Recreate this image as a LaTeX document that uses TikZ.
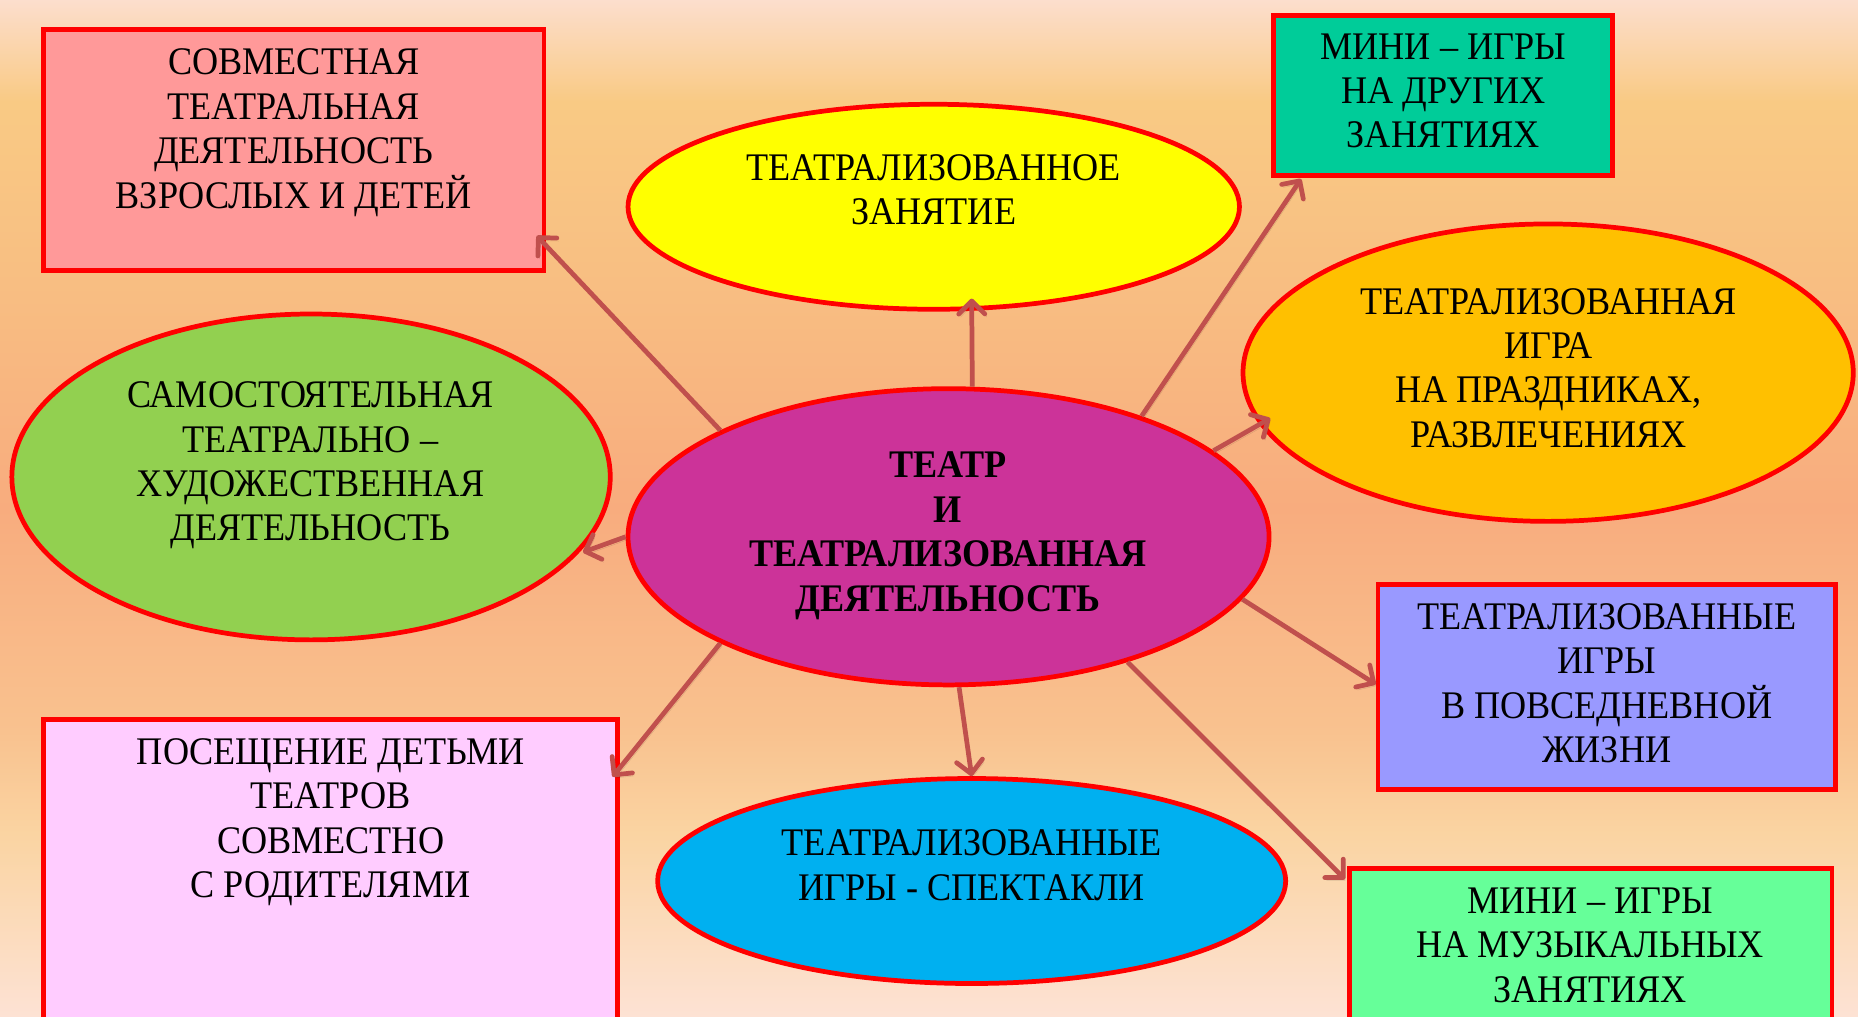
\documentclass[tikz,border=0pt]{standalone}
\usepackage{fontspec}
\setmainfont{Liberation Serif}[FakeStretch=0.925]
\usetikzlibrary{shapes.geometric,arrows.meta,calc}
\definecolor{bgA}{RGB}{253,226,212}
\definecolor{bgB}{RGB}{250,212,162}
\definecolor{bgC}{RGB}{249,194,143}
\definecolor{bgD}{RGB}{248,172,126}
\definecolor{bgE}{RGB}{248,190,130}
\definecolor{bgF}{RGB}{249,202,132}
\definecolor{bgG}{RGB}{252,222,205}
\definecolor{bordred}{RGB}{255,0,0}
\definecolor{arrowred}{RGB}{192,80,77}
\definecolor{fillsalmon}{RGB}{255,153,153}
\definecolor{fillyellow}{RGB}{255,255,0}
\definecolor{fillteal}{RGB}{0,204,153}
\definecolor{fillorange}{RGB}{255,192,0}
\definecolor{fillgreen}{RGB}{146,208,80}
\definecolor{fillmagenta}{RGB}{204,51,153}
\definecolor{fillviolet}{RGB}{153,153,255}
\definecolor{fillpink}{RGB}{255,204,255}
\definecolor{fillblue}{RGB}{0,176,240}
\definecolor{filllime}{RGB}{102,255,153}
\pgfdeclareverticalshading{bgshade}{100bp}{color(0bp)=(bgA); color(25bp)=(bgA); color(34bp)=(bgB); color(39bp)=(bgC); color(50bp)=(bgD); color(61bp)=(bgE); color(70bp)=(bgF); color(75bp)=(bgG); color(100bp)=(bgG)}
\begin{document}
\begin{tikzpicture}[x=1pt,y=-1pt,
  shapebase/.style={draw=bordred, line width=4pt, inner sep=0pt},
  boxshape/.style={shapebase, rectangle},
  ellshape/.style={shapebase, ellipse},
  txt/.style={anchor=north, align=center, inner sep=0pt, font=\fontsize{33}{37.5}\selectfont},
  conn/.style={draw=arrowred, line width=4pt, -{Straight Barb[length=11pt,width=22pt,round]},
    preaction={draw=black, draw opacity=0.12, transform canvas={shift={(1.5pt,-2.5pt)}}}}
]
\clip (0,0) rectangle (1568,858);
\shade[shading=bgshade] (0,0) rectangle (1568,858);

% shapes
\node[boxshape, fill=fillsalmon, minimum width=422pt, minimum height=203pt] (b1) at (248,126.5) {};
\node[ellshape, fill=fillyellow, minimum width=516pt, minimum height=173pt] (y) at (788,174.5) {};
\node[boxshape, fill=fillteal, minimum width=286pt, minimum height=135pt] (t) at (1218,80.5) {};
\node[ellshape, fill=fillorange, minimum width=515pt, minimum height=251pt] (o) at (1306.5,314.5) {};
\node[ellshape, fill=fillgreen, minimum width=505pt, minimum height=275pt] (g) at (262.5,402.5) {};
\node[boxshape, fill=fillviolet, minimum width=386pt, minimum height=173pt] (p) at (1356,579.5) {};
\node[boxshape, fill=fillpink, minimum width=484pt, minimum height=281pt] (k) at (279,747.5) {};
\node[ellshape, fill=fillblue, minimum width=530pt, minimum height=173pt] (b) at (820,743.5) {};
\node[boxshape, fill=filllime, minimum width=407pt, minimum height=155pt] (m) at (1342.5,810.5) {};
\node[ellshape, fill=fillmagenta, minimum width=541pt, minimum height=250pt] (c) at (800.5,453) {};

% connectors
\draw[conn] (c.155) -- ($(b1.south east)+(-8,-31)$);
\draw[conn] (c.81) -- ($(y.south)+(32,-11)$);
\draw[conn] (c.32) -- ($(t.south west)+(25,1)$);
\draw[conn] (c.18.4) -- ($(o.west)+(25,38.5)$);
\draw[conn] (c.180) -- ($(g.east)+(-25,63.5)$);
\draw[conn] (c.-12.3) -- ($(p.west)+(0,-2)$);
\draw[conn] (c.205.6) -- ($(k.north east)+(-6,50.5)$);
\draw[conn] (c.-86.4) -- (b.north);
\draw[conn] (c.-35.4) -- ($(m.north west)+(-2,11)$);

% texts
\node[txt] (t1) at (248,41) {СОВМЕСТНАЯ\\ТЕАТРАЛЬНАЯ\\ДЕЯТЕЛЬНОСТЬ\\ВЗРОСЛЫХ И ДЕТЕЙ};
\node[txt] (t2) at (788,130) {ТЕАТРАЛИЗОВАННОЕ\\ЗАНЯТИЕ};
\node[txt] (t3) at (1218,28) {МИНИ – ИГРЫ\\НА ДРУГИХ\\ЗАНЯТИЯХ};
\node[txt] (t4) at (1307,243) {ТЕАТРАЛИЗОВАННАЯ\\ИГРА\\НА ПРАЗДНИКАХ,\\РАЗВЛЕЧЕНИЯХ};
\node[txt] (t5) at (262,322) {САМОСТОЯТЕЛЬНАЯ\\ТЕАТРАЛЬНО –\\ХУДОЖЕСТВЕННАЯ\\ДЕЯТЕЛЬНОСТЬ};
\node[txt, font=\fontsize{33}{37.7}\selectfont\bfseries] (t6) at (800,381) {ТЕАТР\\И\\ТЕАТРАЛИЗОВАННАЯ\\ДЕЯТЕЛЬНОСТЬ};
\node[txt] (t7) at (1356,509) {ТЕАТРАЛИЗОВАННЫЕ\\ИГРЫ\\В ПОВСЕДНЕВНОЙ\\ЖИЗНИ};
\node[txt] (t8) at (279,623) {ПОСЕЩЕНИЕ ДЕТЬМИ\\ТЕАТРОВ\\СОВМЕСТНО\\С РОДИТЕЛЯМИ};
\node[txt] (t9) at (820,700) {ТЕАТРАЛИЗОВАННЫЕ\\ИГРЫ - СПЕКТАКЛИ};
\node[txt] (t10) at (1342,749) {МИНИ – ИГРЫ\\НА МУЗЫКАЛЬНЫХ\\ЗАНЯТИЯХ};
\end{tikzpicture}
\end{document}
